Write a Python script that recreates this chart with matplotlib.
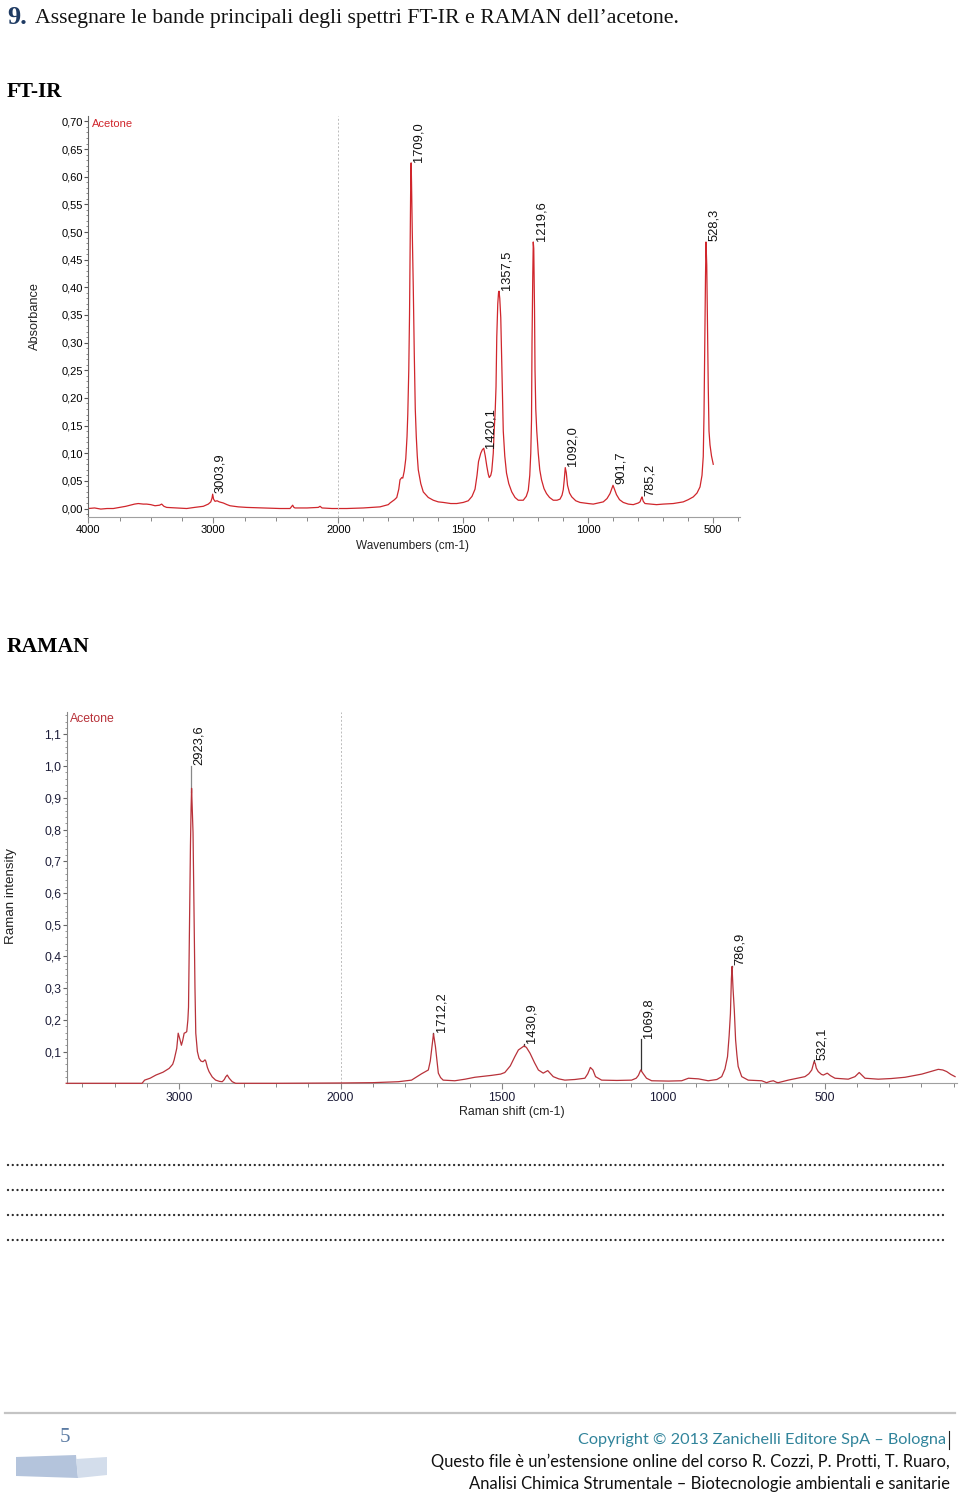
import numpy as np
import matplotlib
matplotlib.use("Agg")
import matplotlib.pyplot as plt
from matplotlib.ticker import FixedLocator, FuncFormatter
from matplotlib.patches import Polygon
from matplotlib.lines import Line2D

# ---------------- data ----------------
ftir_wn = [4000, 3950, 3900, 3850, 3800, 3750, 3700, 3666, 3630, 3600, 3560, 3533, 3500, 3466, 3430,
           3413, 3395, 3373, 3300, 3213, 3150, 3080, 3040, 3020, 3010, 3005, 2998, 2986, 2970, 2952,
           2920, 2890, 2866, 2800, 2733, 2600, 2466, 2386, 2375, 2365, 2355, 2346, 2250, 2160, 2146,
           2130, 2050, 1966, 1900, 1833, 1800, 1793, 1775, 1766, 1758, 1753, 1746, 1742, 1736, 1730,
           1725, 1722, 1718, 1715, 1712, 1710, 1708.5, 1707, 1704, 1700, 1696, 1692, 1688, 1684, 1680,
           1670, 1660, 1640, 1620, 1600, 1580, 1550, 1526, 1500, 1480, 1465, 1453, 1445, 1439, 1430,
           1424, 1418, 1412, 1406, 1400, 1396, 1390, 1386, 1380, 1377, 1372, 1369, 1366, 1362, 1359,
           1357, 1354, 1350, 1346, 1343, 1340, 1334, 1327, 1318, 1306, 1293, 1280, 1260, 1248, 1240,
           1234, 1230, 1227, 1225, 1222, 1220, 1218, 1215, 1213, 1210, 1206, 1200, 1194, 1187, 1177,
           1167, 1155, 1140, 1125, 1113, 1105, 1100, 1096, 1092, 1088, 1083, 1075, 1066, 1050, 1033,
           1000, 980, 960, 940, 925, 913, 905, 901, 896, 887, 875, 860, 840, 820, 800,
           793, 788, 785, 780, 773, 750, 727, 700, 660, 620, 600, 580, 565, 553, 545,
           540, 537, 534, 531, 529, 526, 523, 520, 517, 513, 507, 500]
ftir_abs = [0.000, 0.001, -0.001, 0.000, 0.000, 0.002, 0.004, 0.006, 0.008, 0.009, 0.008, 0.008, 0.007, 0.005, 0.006,
            0.008, 0.004, 0.002, 0.001, 0.000, 0.002, 0.004, 0.008, 0.012, 0.019, 0.026, 0.017, 0.013, 0.014, 0.012,
            0.010, 0.007, 0.005, 0.003, 0.002, 0.001, 0.000, 0.000, 0.003, 0.006, 0.002, 0.001, 0.001, 0.002, 0.004,
            0.001, 0.000, 0.000, 0.001, 0.003, 0.007, 0.010, 0.016, 0.020, 0.035, 0.052, 0.056, 0.055, 0.068, 0.090,
            0.130, 0.170, 0.250, 0.350, 0.500, 0.600, 0.625, 0.590, 0.500, 0.400, 0.280, 0.180, 0.130, 0.095, 0.070,
            0.045, 0.030, 0.020, 0.015, 0.012, 0.011, 0.009, 0.009, 0.011, 0.014, 0.022, 0.035, 0.060, 0.085, 0.100,
            0.106, 0.109, 0.095, 0.077, 0.062, 0.056, 0.060, 0.068, 0.100, 0.135, 0.180, 0.220, 0.310, 0.370, 0.390,
            0.393, 0.380, 0.345, 0.260, 0.190, 0.140, 0.095, 0.064, 0.045, 0.030, 0.020, 0.015, 0.015, 0.022, 0.033,
            0.060, 0.100, 0.160, 0.300, 0.420, 0.482, 0.470, 0.360, 0.250, 0.180, 0.140, 0.100, 0.070, 0.052, 0.036,
            0.027, 0.020, 0.015, 0.015, 0.017, 0.024, 0.034, 0.052, 0.074, 0.065, 0.042, 0.028, 0.021, 0.014, 0.011,
            0.009, 0.008, 0.010, 0.012, 0.018, 0.027, 0.037, 0.042, 0.036, 0.025, 0.016, 0.011, 0.008, 0.007, 0.010,
            0.012, 0.018, 0.021, 0.013, 0.009, 0.008, 0.007, 0.008, 0.009, 0.012, 0.016, 0.021, 0.028, 0.039, 0.060,
            0.094, 0.170, 0.300, 0.420, 0.482, 0.440, 0.330, 0.220, 0.140, 0.115, 0.095, 0.080]

ftir_peak_wn = [3003.9, 1709.0, 1420.1, 1357.5, 1219.6, 1092.0, 901.7, 785.2, 528.3]
ftir_peak_y = [0.027, 0.626, 0.109, 0.393, 0.482, 0.075, 0.043, 0.021, 0.482]
ftir_peak_lbl = ["3003,9", "1709,0", "1420,1", "1357,5", "1219,6", "1092,0", "901,7", "785,2", "528,3"]

raman_wn = [3700, 3400, 3230, 3214, 3180, 3144, 3100, 3062, 3040, 3031, 3015, 3006, 2996, 2986, 2978,
            2969, 2960, 2953, 2946, 2942, 2938, 2934, 2930, 2926, 2923, 2920, 2914, 2910, 2907, 2902,
            2897, 2887, 2877, 2865, 2852, 2840, 2835, 2825, 2815, 2795, 2774, 2750, 2733, 2720, 2712,
            2702, 2690, 2671, 2650, 2400, 2000, 1900, 1821, 1780, 1749, 1728, 1722, 1718, 1712, 1706,
            1701, 1697, 1690, 1682, 1646, 1614, 1584, 1532, 1504, 1491, 1474, 1460, 1449, 1431, 1424,
            1413, 1399, 1387, 1372, 1358, 1349, 1341, 1324, 1305, 1274, 1243, 1234, 1226, 1218, 1210,
            1191, 1144, 1098, 1084, 1077, 1070, 1062, 1052, 1036, 984, 943, 922, 891, 861, 834,
            819, 809, 801, 796, 792, 789, 787, 784, 780, 776, 772, 768, 757, 737, 695,
            680, 669, 659, 649, 644, 613, 561, 549, 540, 533, 529, 526, 520, 510, 504,
            492, 482, 468, 427, 406, 393, 384, 375, 334, 294, 251, 199, 169, 148, 134,
            122, 109, 96]
raman_int = [0.0, 0.0, 0.0, 0.010, 0.016, 0.026, 0.035, 0.047, 0.060, 0.074, 0.110, 0.158, 0.140, 0.120, 0.135,
             0.158, 0.160, 0.163, 0.200, 0.240, 0.400, 0.580, 0.750, 0.870, 0.930, 0.880, 0.790, 0.620, 0.470, 0.300,
             0.158, 0.100, 0.079, 0.070, 0.068, 0.074, 0.070, 0.050, 0.037, 0.020, 0.010, 0.006, 0.005, 0.012, 0.020,
             0.026, 0.016, 0.005, 0.0, 0.0, 0.001, 0.002, 0.005, 0.010, 0.030, 0.042, 0.070, 0.105, 0.156, 0.116,
             0.070, 0.032, 0.018, 0.010, 0.008, 0.013, 0.019, 0.025, 0.029, 0.034, 0.055, 0.084, 0.105, 0.118, 0.113,
             0.095, 0.065, 0.042, 0.032, 0.040, 0.030, 0.021, 0.014, 0.010, 0.012, 0.016, 0.030, 0.050, 0.042, 0.021,
             0.010, 0.009, 0.010, 0.016, 0.025, 0.042, 0.030, 0.016, 0.008, 0.007, 0.008, 0.016, 0.014, 0.008, 0.012,
             0.021, 0.045, 0.084, 0.150, 0.220, 0.330, 0.368, 0.300, 0.231, 0.137, 0.090, 0.053, 0.021, 0.010, 0.008,
             0.002, 0.006, 0.008, 0.003, 0.002, 0.010, 0.021, 0.030, 0.042, 0.068, 0.062, 0.048, 0.037, 0.028, 0.026,
             0.032, 0.024, 0.016, 0.013, 0.021, 0.034, 0.025, 0.016, 0.013, 0.015, 0.019, 0.029, 0.038, 0.044, 0.042,
             0.037, 0.028, 0.021]

raman_peak_wn = [2923.6, 1712.2, 1430.9, 1069.8, 786.9, 532.1]
raman_peak_y = [1.0, 0.16, 0.125, 0.14, 0.37, 0.072]
raman_peak_lbl = ["2923,6", "1712,2", "1430,9", "1069,8", "786,9", "532,1"]

ftir_xticks = [4000, 3000, 2000, 1500, 1000, 500]
ftir_xtick_lbl = ["4000", "3000", "2000", "1500", "1000", "500"]
ftir_yticks = [0.00, 0.05, 0.10, 0.15, 0.20, 0.25, 0.30, 0.35, 0.40, 0.45, 0.50, 0.55, 0.60, 0.65, 0.70]
raman_xticks = [3000, 2000, 1500, 1000, 500]
raman_xtick_lbl = ["3000", "2000", "1500", "1000", "500"]
raman_yticks = [0.1, 0.2, 0.3, 0.4, 0.5, 0.6, 0.7, 0.8, 0.9, 1.0, 1.1]

# ---------------- figure ----------------
W, H = 960, 1495
fig = plt.figure(figsize=(W / 100, H / 100), dpi=100)
renderer = fig.canvas.get_renderer()


def fx(x):
    return x / W


def fy(y):
    return 1 - y / H


def fit(t, target):
    bb = t.get_window_extent(renderer)
    longest = max(bb.width, bb.height)
    t.set_fontsize(t.get_fontsize() * target / longest)


def fwd(x):
    x = np.asarray(x, dtype=float)
    return np.where(x > 2000, 2000 + (x - 2000) / 2.0, x)


def inv(y):
    y = np.asarray(y, dtype=float)
    return np.where(y > 2000, 2000 + (y - 2000) * 2.0, y)


SANS = ["Liberation Sans", "DejaVu Sans"]
SERIF = ["Liberation Serif", "DejaVu Serif"]
RED1 = "#d0262c"
RED2 = "#b8323a"

# ---- page texts ----
t = fig.text(fx(7), fy(17), "9.", family=SERIF, fontweight="bold", color="#1f3b63",
             fontsize=19, va="center", ha="left")
t = fig.text(fx(35), fy(19), "Assegnare le bande principali degli spettri FT-IR e RAMAN dell\u2019acetone.",
             family=SERIF, fontsize=15, va="center", ha="left", color="#111111")
fit(t, 646)
t = fig.text(fx(7), fy(92), "FT-IR", family=SERIF, fontweight="bold", fontsize=15, va="center", ha="left")
fit(t, 56)
t = fig.text(fx(7), fy(647), "RAMAN", family=SERIF, fontweight="bold", fontsize=15, va="center", ha="left")
fit(t, 83)

# ---- FT-IR axes ----
ax1 = fig.add_axes([fx(88.3), fy(516.7), (740 - 88.3) / W, (516.7 - 116) / H])
ax1.plot(ftir_wn, ftir_abs, color=RED1, lw=0.9)
ax1.set_xscale("function", functions=(fwd, inv))
ax1.set_xlim(4000, 393)
ax1.set_ylim(-0.0148, 0.7098)
ax1.axvline(2000, color="#bbbbbb", lw=0.7, ls=(0, (2, 2)))
ax1.xaxis.set_major_locator(FixedLocator(ftir_xticks))
ax1.xaxis.set_major_formatter(FuncFormatter(lambda v, p: ftir_xtick_lbl[ftir_xticks.index(int(round(v)))]
                                            if int(round(v)) in ftir_xticks else ""))
ax1.xaxis.set_minor_locator(FixedLocator([3750, 3500, 3250, 2750, 2500, 2250] +
                                         list(range(1900, 390, -100))))
ax1.yaxis.set_major_locator(FixedLocator(ftir_yticks))
ax1.yaxis.set_major_formatter(FuncFormatter(lambda v, p: f"{v:.2f}".replace(".", ",")))
ax1.yaxis.set_minor_locator(FixedLocator(np.arange(-0.01, 0.71, 0.01)))
for s in ("top", "right"):
    ax1.spines[s].set_visible(False)
ax1.spines["left"].set_linestyle((0, (1.5, 1)))
ax1.spines["left"].set_color("#666666")
ax1.spines["bottom"].set_color("#a0a0a0")
ax1.tick_params(axis="y", which="major", direction="out", length=3, width=0.8, color="#555555",
                labelsize=8, pad=1)
ax1.tick_params(axis="y", which="minor", direction="out", length=1.5, width=0.6, color="#777777")
ax1.tick_params(axis="x", which="major", direction="out", length=4, width=0.8, color="#888888",
                labelsize=8, pad=2)
ax1.tick_params(axis="x", which="minor", direction="out", length=3, width=0.7, color="#888888")
for lab in ax1.get_xticklabels() + ax1.get_yticklabels():
    lab.set_family(SANS)
for wn, yv, lbl in zip(ftir_peak_wn, ftir_peak_y, ftir_peak_lbl):
    ax1.annotate(lbl, (wn, yv), xytext=(1.2, 0.5), textcoords="offset points", rotation=90,
                 ha="left", va="bottom", fontsize=9.3, family=SANS, color="#111111")
t = fig.text(fx(92), fy(124), "Acetone", family=SANS, color=RED1, fontsize=8.5, va="center", ha="left")
fit(t, 41)
t = fig.text(fx(35), fy(316), "Absorbance", family=SANS, color="#222222", fontsize=8.5, rotation=90,
             va="center", ha="center")
fit(t, 68)
t = fig.text(fx(413), fy(546), "Wavenumbers (cm-1)", family=SANS, color="#222222", fontsize=8.5,
             va="center", ha="center")
fit(t, 112)

# ---- RAMAN axes ----
ax2 = fig.add_axes([fx(67), fy(1083.3), (957 - 67) / W, (1083.3 - 712) / H])
ax2.plot(raman_wn, raman_int, color=RED2, lw=0.9, clip_on=False, zorder=3)
ax2.set_xscale("function", functions=(fwd, inv))
ax2.set_xlim(3695, 90)
ax2.set_ylim(0, 1.1706)
ax2.axvline(2000, color="#bbbbbb", lw=0.7, ls=(0, (2, 2)))
ax2.xaxis.set_major_locator(FixedLocator(raman_xticks))
ax2.xaxis.set_major_formatter(FuncFormatter(lambda v, p: raman_xtick_lbl[raman_xticks.index(int(round(v)))]
                                            if int(round(v)) in raman_xticks else ""))
ax2.xaxis.set_minor_locator(FixedLocator([3600, 3400, 3200, 2800, 2600, 2400, 2200] +
                                         list(range(1900, 95, -100))))
ax2.yaxis.set_major_locator(FixedLocator(raman_yticks))
ax2.yaxis.set_major_formatter(FuncFormatter(lambda v, p: f"{v:.1f}".replace(".", ",")))
ax2.yaxis.set_minor_locator(FixedLocator(np.arange(0.02, 1.17, 0.02)))
for s in ("top", "right"):
    ax2.spines[s].set_visible(False)
ax2.spines["left"].set_linestyle((0, (1.5, 1)))
ax2.spines["left"].set_color("#888888")
ax2.spines["bottom"].set_color("#a0a0a0")
ax2.tick_params(axis="y", which="major", direction="out", length=3, width=0.8, color="#666666",
                labelsize=8.7, pad=1, labelcolor="#1c1c38")
ax2.tick_params(axis="y", which="minor", direction="out", length=1.5, width=0.6, color="#888888")
ax2.tick_params(axis="x", which="major", direction="out", length=4, width=0.8, color="#888888",
                labelsize=8.7, pad=2, labelcolor="#1c1c38")
ax2.tick_params(axis="x", which="minor", direction="out", length=3, width=0.7, color="#888888")
for lab in ax2.get_xticklabels() + ax2.get_yticklabels():
    lab.set_family(SANS)
rw = np.array(raman_wn[::-1], dtype=float)
ri = np.array(raman_int[::-1], dtype=float)
for wn, yv, lbl in zip(raman_peak_wn, raman_peak_y, raman_peak_lbl):
    base = float(np.interp(wn, rw, ri))
    if yv > base:
        ax2.plot([wn, wn], [base, yv], color="#333333" if yv < 0.5 else "#888888", lw=0.9, zorder=2)
    ax2.annotate(lbl, (wn, yv), xytext=(1.2, 0.5), textcoords="offset points", rotation=90,
                 ha="left", va="bottom", fontsize=9.3, family=SANS, color="#111111")
t = fig.text(fx(70), fy(719), "Acetone", family=SANS, color=RED2, fontsize=9, va="center", ha="left")
fit(t, 45)
t = fig.text(fx(11), fy(896), "Raman intensity", family=SANS, color="#222222", fontsize=9, rotation=90,
             va="center", ha="center")
fit(t, 97)
t = fig.text(fx(512), fy(1112), "Raman shift (cm-1)", family=SANS, color="#222222", fontsize=9,
             va="center", ha="center")
fit(t, 105)

# ---- dotted answer lines ----
for yy in (1165, 1190, 1215, 1240):
    fig.add_artist(Line2D([fx(8), fx(946)], [fy(yy), fy(yy)], transform=fig.transFigure,
                          color="#2a2a2a", lw=1.7, linestyle=(0, (0.01, 2.0)),
                          dash_capstyle="round"))

# ---- footer ----
fig.add_artist(Line2D([fx(5), fx(955)], [fy(1413), fy(1413)], transform=fig.transFigure,
                      color="#c4c4c4", lw=1.6))
fig.text(fx(65), fy(1437), "5", family=SERIF, color="#5b7ba3", fontsize=15, va="center", ha="center")
fig.add_artist(Polygon([(fx(16), fy(1457)), (fx(76), fy(1455)), (fx(78), fy(1478)), (fx(16), fy(1476))],
                       closed=True, transform=fig.transFigure, facecolor="#b4c4dc", edgecolor="none"))
fig.add_artist(Polygon([(fx(76), fy(1459)), (fx(107), fy(1457)), (fx(107), fy(1475)), (fx(78), fy(1478))],
                       closed=True, transform=fig.transFigure, facecolor="#d3ddeb", edgecolor="none"))
FOOT = ["Lato", "DejaVu Sans"]
t = fig.text(fx(946), fy(1440), "Copyright \u00a9 2013 Zanichelli Editore SpA \u2013 Bologna",
             family=FOOT, color="#31849b", fontsize=11, va="center", ha="right")
fit(t, 368)
fig.add_artist(Line2D([fx(948.5), fx(948.5)], [fy(1431), fy(1449)], transform=fig.transFigure,
                      color="#222222", lw=0.8))
t = fig.text(fx(950), fy(1462), "Questo file \u00e8 un\u2019estensione online del corso R. Cozzi, P. Protti, T. Ruaro,",
             family=FOOT, color="#111111", fontsize=11, va="center", ha="right")
fit(t, 518)
t = fig.text(fx(950), fy(1484), "Analisi Chimica Strumentale \u2013 Biotecnologie ambientali e sanitarie",
             family=FOOT, color="#111111", fontsize=11, va="center", ha="right")
fit(t, 480)

fig.savefig("out.png", dpi=100)
